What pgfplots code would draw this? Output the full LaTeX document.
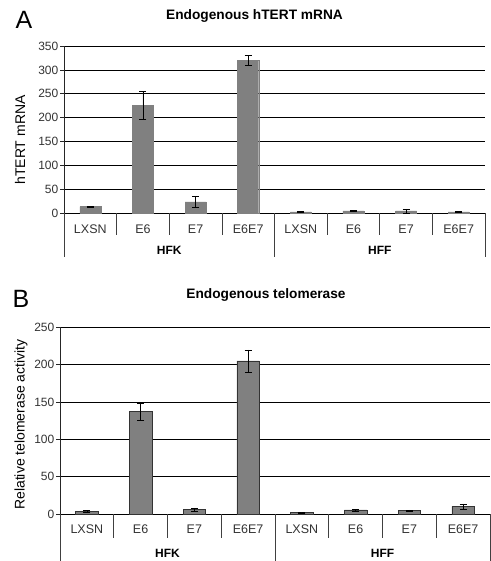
\documentclass[border=0pt]{standalone}
\usepackage{pgfplots}
\pgfplotsset{compat=1.18}
\usepackage{fontspec}
\setmainfont{Liberation Sans}
\definecolor{barfill}{HTML}{808080}
\definecolor{txt}{HTML}{333333}
\newcommand\catlabels[1]{%
  \node[anchor=base, text=txt, font=\fontsize{12.5}{12.5}\selectfont] at ([yshift=#1]axis cs:0.5,0) {LXSN};
  \node[anchor=base, text=txt, font=\fontsize{12.5}{12.5}\selectfont] at ([yshift=#1]axis cs:1.5,0) {E6};
  \node[anchor=base, text=txt, font=\fontsize{12.5}{12.5}\selectfont] at ([yshift=#1]axis cs:2.5,0) {E7};
  \node[anchor=base, text=txt, font=\fontsize{12.5}{12.5}\selectfont] at ([yshift=#1]axis cs:3.5,0) {E6E7};
  \node[anchor=base, text=txt, font=\fontsize{12.5}{12.5}\selectfont] at ([yshift=#1]axis cs:4.5,0) {LXSN};
  \node[anchor=base, text=txt, font=\fontsize{12.5}{12.5}\selectfont] at ([yshift=#1]axis cs:5.5,0) {E6};
  \node[anchor=base, text=txt, font=\fontsize{12.5}{12.5}\selectfont] at ([yshift=#1]axis cs:6.5,0) {E7};
  \node[anchor=base, text=txt, font=\fontsize{12.5}{12.5}\selectfont] at ([yshift=#1]axis cs:7.5,0) {E6E7};
}
\begin{document}
\begin{tikzpicture}
\useasboundingbox (0,0) rectangle (490pt,-561pt);
\pgfplotsset{
  panel/.style={
    scale only axis, clip=false,
    xmin=0, xmax=8, ymin=0,
    axis x line=none, axis y line=left,
    axis line style={-, draw=black!85, line width=0.6pt},
    ymajorgrids, grid style={black, line width=0.6pt},
    tick align=outside, major tick length=4pt,
    y tick style={black!85, line width=0.6pt},
    yticklabel style={font=\fontsize{12}{12}\selectfont, text=txt, inner sep=1.5pt},
    /pgf/number format/assume math mode=true,
  },
}
% ---------------- Panel A ----------------
\begin{axis}[panel, at={(64pt,-213.3pt)}, anchor=south west,
  width=421pt, height=167.3pt, ymax=350, ytick={0,50,...,350}]
\addplot[ybar, bar width=0.4, fill=barfill, draw=barfill,
  error bars/.cd, y dir=both, y explicit,
  error bar style={draw=black, line width=0.6pt},
  error mark options={rotate=90, mark size=3.5pt, draw=black}]
 coordinates {
 (0.5,14) +- (0,1)
 (1.5,226) +- (0,29)
 (2.5,24) +- (0,11)
 (3.5,320) +- (0,11)
 (4.5,3) +- (0,0.7)
 (5.5,5) +- (0,0.7)
 (6.5,5) +- (0,4)
 (7.5,3) +- (0,0.7)
 };
\pgfplotsinvokeforeach{1,2,3,5,6,7}{\draw[black!75, line width=0.6pt] (axis cs:#1,0) -- ++(0,-22pt);}
\pgfplotsinvokeforeach{0,4,8}{\draw[black!75, line width=0.6pt] (axis cs:#1,0) -- ++(0,-44pt);}
\catlabels{-20pt}
\node[anchor=base, font=\bfseries\fontsize{12}{12}\selectfont] at ([yshift=-41.5pt]axis cs:2,0) {HFK};
\node[anchor=base, font=\bfseries\fontsize{12}{12}\selectfont] at ([yshift=-41.5pt]axis cs:6,0) {HFF};
\end{axis}
\node[font=\bfseries\fontsize{13.7}{13.7}\selectfont] at (254.5pt,-16pt) {Endogenous hTERT mRNA};
\node[font=\fontsize{25}{25}\selectfont, anchor=base] at (24pt,-29pt) {A};
\node[rotate=90, font=\fontsize{14}{14}\selectfont] at (20pt,-140pt) {hTERT mRNA};
% ---------------- Panel B ----------------
\begin{axis}[panel, at={(60pt,-514pt)}, anchor=south west,
  width=430pt, height=186.7pt, ymax=250, ytick={0,50,...,250}]
\addplot[ybar, bar width=0.42, fill=barfill, draw=black!80, line width=0.6pt,
  error bars/.cd, y dir=both, y explicit,
  error bar style={draw=black, line width=0.6pt},
  error mark options={rotate=90, mark size=3.5pt, draw=black}]
 coordinates {
 (0.5,4) +- (0,1)
 (1.5,137) +- (0,11)
 (2.5,6.3) +- (0,2)
 (3.5,205) +- (0,15)
 (4.5,2) +- (0,0.4)
 (5.5,5.4) +- (0,1)
 (6.5,4.5) +- (0,1)
 (7.5,10.3) +- (0,3.5)
 };
\pgfplotsinvokeforeach{1,2,3,5,6,7}{\draw[black!75, line width=0.6pt] (axis cs:#1,0) -- ++(0,-24pt);}
\pgfplotsinvokeforeach{0,4,8}{\draw[black!75, line width=0.6pt] (axis cs:#1,0) -- ++(0,-60pt);}
\catlabels{-19pt}
\node[anchor=base, font=\bfseries\fontsize{12}{12}\selectfont] at ([yshift=-43.5pt]axis cs:2,0) {HFK};
\node[anchor=base, font=\bfseries\fontsize{12}{12}\selectfont] at ([yshift=-43.5pt]axis cs:6,0) {HFF};
\end{axis}
\node[font=\bfseries\fontsize{13.7}{13.7}\selectfont] at (266pt,-295pt) {Endogenous telomerase};
\node[font=\fontsize{25}{25}\selectfont, anchor=base] at (21pt,-307pt) {B};
\node[rotate=90, font=\fontsize{14}{14}\selectfont] at (21pt,-424.5pt) {Relative telomerase activity};
\end{tikzpicture}
\end{document}
